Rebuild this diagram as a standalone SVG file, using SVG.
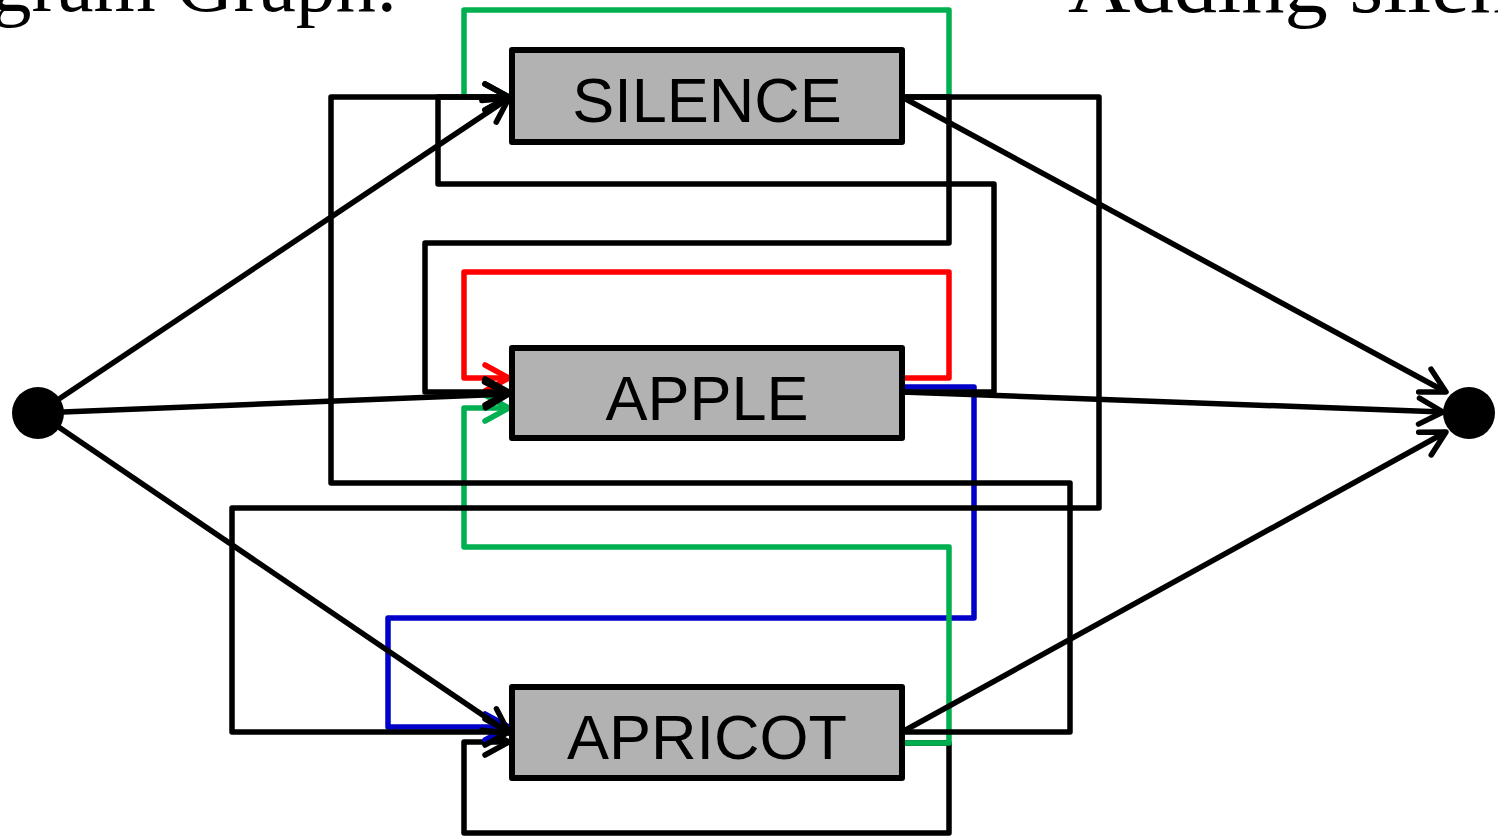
<svg xmlns="http://www.w3.org/2000/svg" width="1498" height="837" viewBox="0 0 1498 837">
  <style>
    .title { font-family: "Liberation Serif", "Times New Roman", serif; font-size: 80px; fill: #000; }
    .box { fill: #b2b2b2; stroke: #000; stroke-width: 6; stroke-linejoin: round; }
    .label { font-family: "Liberation Sans", Arial, sans-serif; font-size: 63px; fill: #000; text-anchor: middle; }
    .term { fill: #000; }
    .edge { fill: none; stroke-width: 5.5; stroke-linejoin: round; stroke-linecap: butt; }
    .k { stroke: #000; marker-end: url(#arrK); }
    .r { stroke: #ff0000; marker-end: url(#arrR); }
    .g { stroke: #00b050; marker-end: url(#arrG); }
    .b { stroke: #0000c8; marker-end: url(#arrB); }
  </style>
  <defs>
    <marker id="arrK" viewBox="-30 -20 40 40" markerWidth="40" markerHeight="40" refX="0" refY="0" orient="auto" markerUnits="userSpaceOnUse">
      <path d="M-24,-13 L0,0 L-24,13" fill="none" stroke="#000" stroke-width="5.5" stroke-linecap="round" stroke-linejoin="round"/>
    </marker>
    <marker id="arrR" viewBox="-30 -20 40 40" markerWidth="40" markerHeight="40" refX="0" refY="0" orient="auto" markerUnits="userSpaceOnUse">
      <path d="M-24,-13 L0,0 L-24,13" fill="none" stroke="#ff0000" stroke-width="5.5" stroke-linecap="round" stroke-linejoin="round"/>
    </marker>
    <marker id="arrG" viewBox="-30 -20 40 40" markerWidth="40" markerHeight="40" refX="0" refY="0" orient="auto" markerUnits="userSpaceOnUse">
      <path d="M-24,-13 L0,0 L-24,13" fill="none" stroke="#00b050" stroke-width="5.5" stroke-linecap="round" stroke-linejoin="round"/>
    </marker>
    <marker id="arrB" viewBox="-30 -20 40 40" markerWidth="40" markerHeight="40" refX="0" refY="0" orient="auto" markerUnits="userSpaceOnUse">
      <path d="M-24,-13 L0,0 L-24,13" fill="none" stroke="#0000c8" stroke-width="5.5" stroke-linecap="round" stroke-linejoin="round"/>
    </marker>
  </defs>

  <rect width="1498" height="837" fill="#fff"/>

  <!-- headings running off the top edge -->
  <text class="title" x="398" y="11" text-anchor="end">gram Graph:</text>
  <text class="title" x="1068" y="12" textLength="445" lengthAdjust="spacingAndGlyphs">Adding silen</text>

  <!-- transitions -->
  <g id="connectors">
    <!-- APRICOT self-loop -->
    <path class="edge k" d="M902,743 H949 V833 H464 V742 H509"/>
    <!-- SILENCE self-loop -->
    <path class="edge g" d="M902,97 H949 V10 H464 V97 H509"/>
    <!-- APPLE self-loop -->
    <path class="edge r" d="M902,378 H949 V272 H464 V378 H509"/>
    <!-- APPLE to APRICOT -->
    <path class="edge b" d="M902,387 H974 V618 H388 V727 H509"/>
    <!-- APRICOT to APPLE -->
    <path class="edge g" d="M902,743 H949 V547 H464 V408 H509"/>
    <!-- SILENCE to APPLE -->
    <path class="edge k" d="M902,97 H949 V243 H425 V392 H509"/>
    <!-- SILENCE to APRICOT -->
    <path class="edge k" d="M902,97 H1099 V508 H232 V732 H509"/>
    <!-- APPLE to SILENCE -->
    <path class="edge k" d="M902,392 H994 V184 H438 V97 H509"/>
    <!-- APRICOT to SILENCE -->
    <path class="edge k" d="M902,732 H1070 V483 H331 V97 H509"/>
    <!-- start to words -->
    <path class="edge k" d="M38,413 L509,98"/>
    <path class="edge k" d="M38,413 L509,394"/>
    <path class="edge k" d="M38,413 L509,733"/>
    <!-- words to end -->
    <path class="edge k" d="M902,97 L1446,392"/>
    <path class="edge k" d="M902,392 L1443,412"/>
    <path class="edge k" d="M902,732 L1446,432"/>
  </g>

  <g id="start"><circle class="term" cx="38" cy="413" r="26"/></g>
  <g id="end"><circle class="term" cx="1469" cy="413" r="26"/></g>

  <g id="silence">
    <rect class="box" x="512" y="50" width="390" height="92"/>
    <text class="label" x="707" y="122">SILENCE</text>
  </g>
  <g id="apple">
    <rect class="box" x="512" y="348" width="390" height="90"/>
    <text class="label" x="707" y="420">APPLE</text>
  </g>
  <g id="apricot">
    <rect class="box" x="512" y="687" width="390" height="91"/>
    <text class="label" x="707" y="759">APRICOT</text>
  </g>
</svg>
